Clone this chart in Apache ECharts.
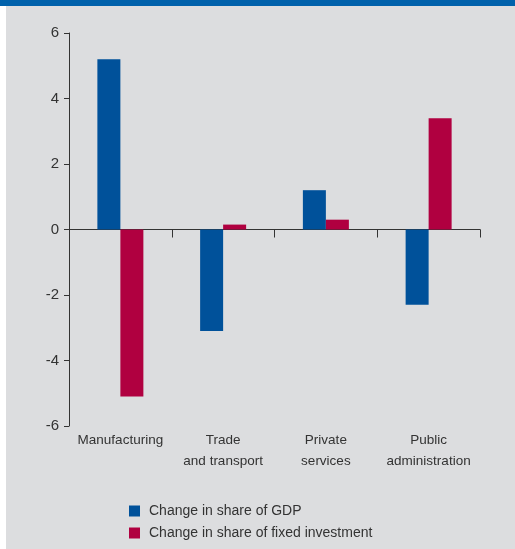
<!DOCTYPE html>
<html>
<head>
<meta charset="utf-8">
<script src="https://cdn.jsdelivr.net/npm/echarts@6/dist/echarts.min.js"></script>
<style>
html,body{margin:0;padding:0;background:#fff;}
#chart{width:515px;height:549px;}
</style>
</head>
<body>
<div id="chart"></div>
<script>
const categories = ['Manufacturing', 'Trade\nand transport', 'Private\nservices', 'Public\nadministration'];
const seriesNames = ['Change in share of GDP', 'Change in share of fixed investment'];
const gdpShare = [5.2, -3.1, 1.2, -2.3];
const investmentShare = [-5.1, 0.15, 0.3, 3.4];
const yMin = -6, yMax = 6, yStep = 2;

const font = "'Liberation Sans', Arial, sans-serif";
const textColor = '#333333';
const chart = echarts.init(document.getElementById('chart'), null, {renderer: 'canvas'});
chart.setOption({
  backgroundColor: '#dcdddf',
  animation: false,
  graphic: [
    {type: 'rect', left: 0, top: 0, shape: {width: 6, height: 549}, style: {fill: '#ffffff'}, silent: true},
    {type: 'rect', left: 0, top: 0, shape: {width: 515, height: 6}, style: {fill: '#0061ab'}, silent: true}
  ],
  grid: {left: 69, right: 35, top: 33, bottom: 123, containLabel: false},
  legend: {
    orient: 'vertical',
    left: 129,
    top: 504,
    padding: 0,
    itemWidth: 15,
    itemHeight: 11,
    itemGap: 8,
    icon: 'path://M0,0H11V11H0ZM15,11',
    textStyle: {fontFamily: font, fontSize: 14, color: textColor, lineHeight: 14},
    data: seriesNames
  },
  xAxis: [
    {
      type: 'category',
      data: categories,
      position: 'bottom',
      axisLine: {onZero: true, lineStyle: {color: '#333', width: 1}},
      axisTick: {show: true, length: 8, lineStyle: {color: '#333'}},
      axisLabel: {show: false}
    },
    {
      type: 'category',
      data: categories,
      position: 'bottom',
      axisLine: {show: false, onZero: false},
      axisTick: {show: false},
      axisLabel: {show: true, interval: 0, fontFamily: font, fontSize: 13.5, color: textColor, lineHeight: 21, margin: 4}
    }
  ],
  yAxis: {
    type: 'value',
    min: yMin,
    max: yMax,
    interval: yStep,
    axisLine: {show: true, lineStyle: {color: '#333', width: 1}},
    axisTick: {show: true, length: 5, lineStyle: {color: '#333'}},
    splitLine: {show: false},
    axisLabel: {fontFamily: font, fontSize: 15, color: textColor, margin: 10}
  },
  series: [
    {name: seriesNames[0], type: 'bar', xAxisIndex: 0, data: gdpShare, barWidth: 23, barGap: '0%', itemStyle: {color: '#00519a'}},
    {name: seriesNames[1], type: 'bar', xAxisIndex: 0, data: investmentShare, barWidth: 23, barGap: '0%', itemStyle: {color: '#b00040'}}
  ]
});
</script>
</body>
</html>
